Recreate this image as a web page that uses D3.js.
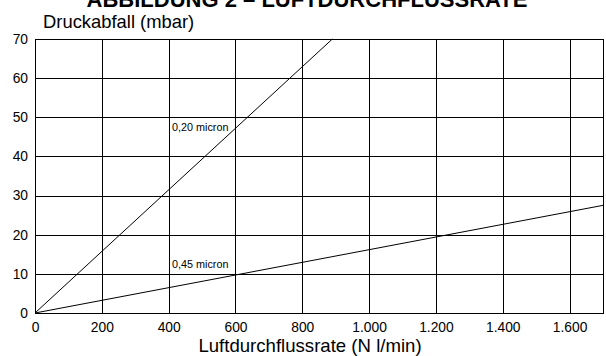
<!DOCTYPE html>
<html>
<head>
<meta charset="utf-8">
<script src="https://cdn.jsdelivr.net/npm/d3@7"></script>
<style>
  body { margin: 0; background: #fff; }
  svg { display: block; font-family: "Liberation Sans", Arial, sans-serif; }
</style>
</head>
<body>
<svg width="606" height="356"></svg>
<script>
// data
const xTicks = [0, 200, 400, 600, 800, 1000, 1200, 1400, 1600];
const yTicks = [0, 10, 20, 30, 40, 50, 60, 70];
const micron020 = [[0, 0], [890, 70]];
const micron045 = [[0, 0], [1700, 27.5]];
const seriesNames = ['0,20 micron', '0,45 micron'];

const width = 606;
const height = 356;
const svg = d3.select('svg');

const margin = { top: 39, right: 3, bottom: 43, left: 35 };

const xScale = d3.scaleLinear()
    .domain([0, 1700])
    .range([margin.left, width - margin.right]);

const yScale = d3.scaleLinear()
    .domain([0, 70])
    .range([height - margin.bottom, margin.top]);

const fmt = d => d >= 1000 ? d3.format(',')(d).replace(',', '.') : String(d);

// grid
svg.append('g')
    .selectAll('line')
    .data(xTicks.slice(1))
    .enter().append('line')
    .attr('x1', d => Math.round(xScale(d)) + 0.5)
    .attr('x2', d => Math.round(xScale(d)) + 0.5)
    .attr('y1', yScale(70))
    .attr('y2', yScale(0))
    .attr('stroke', '#000');

svg.append('g')
    .selectAll('line')
    .data(yTicks.slice(1, -1))
    .enter().append('line')
    .attr('x1', xScale(0))
    .attr('x2', xScale(1700))
    .attr('y1', d => Math.round(yScale(d)) + 0.5)
    .attr('y2', d => Math.round(yScale(d)) + 0.5)
    .attr('stroke', '#000');

// frame
svg.append('rect')
    .attr('x', Math.round(xScale(0)) + 0.5)
    .attr('y', Math.round(yScale(70)) + 0.5)
    .attr('width', Math.round(xScale(1700)) - Math.round(xScale(0)))
    .attr('height', Math.round(yScale(0)) - Math.round(yScale(70)))
    .attr('fill', 'none')
    .attr('stroke', '#000');

// axes labels
const xAxis = g => g
    .attr('transform', `translate(0, ${yScale(0)})`)
    .call(d3.axisBottom(xScale).tickValues(xTicks).tickSize(0).tickPadding(9).tickFormat(fmt))
    .call(g => g.select('.domain').remove());

const yAxis = g => g
    .attr('transform', `translate(${margin.left}, 0)`)
    .call(d3.axisLeft(yScale).tickValues(yTicks).tickSize(0).tickPadding(7))
    .call(g => g.select('.domain').remove());

svg.append('g').call(xAxis)
    .selectAll('text')
    .attr('font-size', 13.8)
    .attr('fill', '#000')
    .attr('font-family', '"Liberation Sans", Arial, sans-serif');

svg.append('g').call(yAxis)
    .selectAll('text')
    .attr('font-size', 13.8)
    .attr('fill', '#000')
    .attr('font-family', '"Liberation Sans", Arial, sans-serif');

// lines
const line = d3.line()
    .x(d => xScale(d[0]))
    .y(d => yScale(d[1]));

svg.append('path')
    .datum(micron020)
    .attr('d', line)
    .attr('fill', 'none')
    .attr('stroke', '#000')
    .attr('stroke-width', 1);

svg.append('path')
    .datum(micron045)
    .attr('d', line)
    .attr('fill', 'none')
    .attr('stroke', '#000')
    .attr('stroke-width', 1);

// series labels
svg.append('text')
    .attr('x', 172)
    .attr('y', 131)
    .attr('font-size', 10.8)
    .text(seriesNames[0]);

svg.append('text')
    .attr('x', 172)
    .attr('y', 268)
    .attr('font-size', 10.8)
    .text(seriesNames[1]);

// titles
svg.append('text')
    .attr('x', 307)
    .attr('y', 7)
    .attr('text-anchor', 'middle')
    .attr('font-size', 22)
    .attr('font-weight', 'bold')
    .text('ABBILDUNG 2 – LUFTDURCHFLUSSRATE');

svg.append('text')
    .attr('x', 43)
    .attr('y', 28)
    .attr('font-size', 18.4)
    .text('Druckabfall (mbar)');

svg.append('text')
    .attr('x', 310)
    .attr('y', 352)
    .attr('text-anchor', 'middle')
    .attr('font-size', 18.6)
    .text('Luftdurchflussrate (N l/min)');
</script>
</body>
</html>
